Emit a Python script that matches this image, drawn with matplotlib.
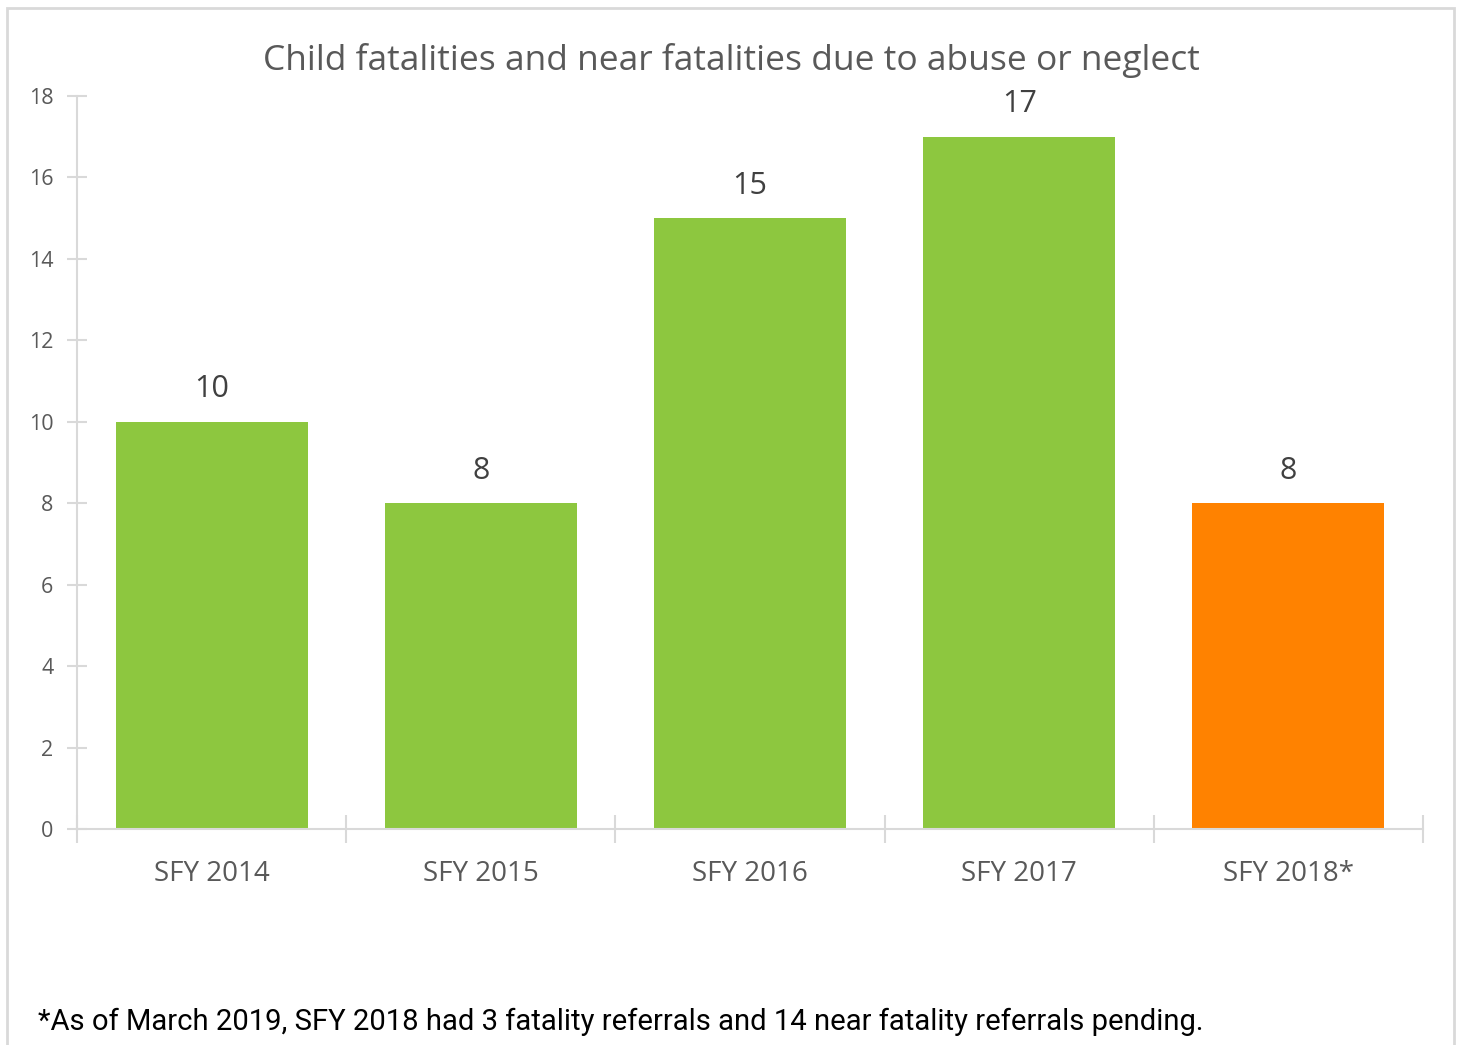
"""
CHILD FATALITIES BAR CHART
"""

import matplotlib.pyplot as plt
from matplotlib.patches import Rectangle

# DATA

categories = ["SFY 2014", "SFY 2015", "SFY 2016", "SFY 2017", "SFY 2018*"]
values = [10, 8, 15, 17, 8]
bar_colors = ["#8dc73f", "#8dc73f", "#8dc73f", "#8dc73f", "#ff8200"]
title = "Child fatalities and near fatalities due to abuse or neglect"
footnote = "*As of March 2019, SFY 2018 had 3 fatality referrals and 14 near fatality referrals pending."

# FIGURE

fig = plt.figure(figsize=(14.6, 10.45), dpi=100)
ax = fig.add_axes([0.0527, 0.2067, 0.9220, 0.7014])

# outer chart frame
fig.patches.append(Rectangle((7 / 1460, -0.01), 1447 / 1460, 1 - 8 / 1045 + 0.01,
                             transform=fig.transFigure, fill=False,
                             edgecolor="#d9d9d9", linewidth=2))

x = range(len(categories))
ax.bar(x, values, width=0.713, color=bar_colors, zorder=2)
for xi, v in zip(x, values):
    ax.text(xi, v + 0.8, str(v), ha="center", va="center",
            fontsize=22, color="#404040", family="Open Sans")

ax.set_xlim(-0.5, 4.5)
ax.set_ylim(0, 18)
ax.set_yticks(range(0, 19, 2))
ax.set_xticks(list(x))
ax.set_xticklabels(categories, fontsize=20, color="#595959", family="Open Sans")
for lab in ax.get_yticklabels():
    lab.set_fontsize(15.5)
    lab.set_color("#595959")
    lab.set_family("Open Sans")

ax.set_xticks([i - 0.5 for i in range(6)], minor=True)
ax.tick_params(axis="x", which="major", length=0, pad=22)
ax.tick_params(axis="x", which="minor", length=20, direction="inout", color="#d9d9d9", width=1.5)
ax.tick_params(axis="y", length=14, direction="inout", color="#d9d9d9", width=1.5, pad=10)

for side in ["top", "right"]:
    ax.spines[side].set_visible(False)
for side in ["left", "bottom"]:
    ax.spines[side].set_color("#d9d9d9")
    ax.spines[side].set_linewidth(1.5)

fig.text(731 / 1460, 1 - 60 / 1045, title, ha="center", va="center",
         fontsize=25.5, color="#595959", family="Open Sans")
fig.text(38 / 1460, 1 - 1022 / 1045, footnote, ha="left", va="center",
         fontsize=21.1, color="black", family="Roboto")

fig.savefig("out.png", dpi=100)
